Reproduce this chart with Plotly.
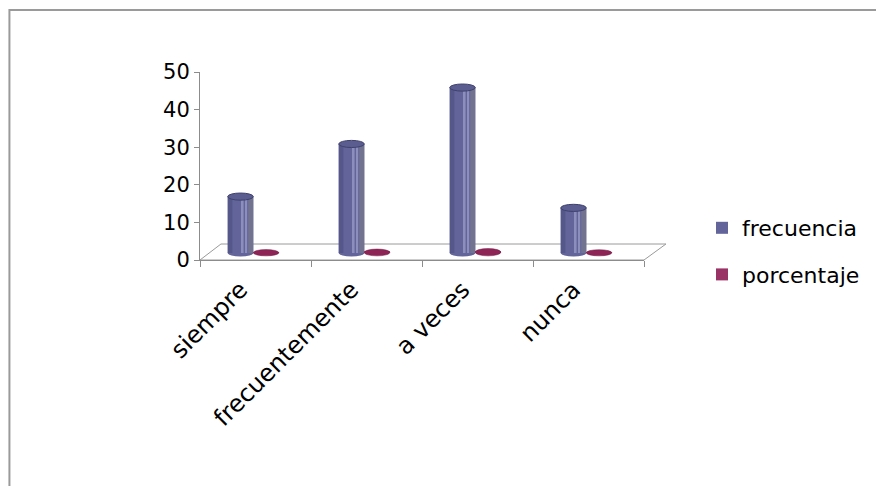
import plotly.graph_objects as go

# Survey answers and their counts / shares
categorias = ["siempre", "frecuentemente", "a veces", "nunca"]
frecuencia = [15, 29, 44, 12]
porcentaje = [0.15, 0.29, 0.44, 0.12]
y_ticks = [0, 10, 20, 30, 40, 50]

W, H = 876, 486
ML, MR, MT, MB = 200, 231, 72, 226
PW, PH = W - ML - MR, H - MT - MB


def px(xp):
    return (xp - ML) / PW


def py(yp):
    return (H - MB - yp) / PH


FONT = "DejaVu Sans"
BLUE = "#62649A"
BLUE_DARK = "#55578A"
BLUE_LIGHT = "#8C8EBC"
BLUE_GREY = "#72738F"
RED = "#8E2456"

# cylinder geometry in category units
W_CYL = 0.23
OFF_F = -0.25
OFF_P = -0.02
CAP = 0.95  # half height of the elliptical caps, in value units

fig = go.Figure()

# value axis carrier (keeps the front axis subplot alive)
fig.add_trace(go.Scatter(x=categorias, y=[None] * len(categorias),
                         mode="lines", showlegend=False, hoverinfo="skip"))

# frecuencia cylinders: body plus shading stripes
fig.add_trace(go.Bar(
    x=categorias, y=frecuencia, name="frecuencia", yaxis="y2",
    offset=OFF_F, width=W_CYL, marker=dict(color=BLUE, line=dict(width=0)),
    legendgroup="f", hoverinfo="skip"))
stripes = [
    (0.00, 0.18, BLUE_DARK),
    (0.55, 0.07, BLUE_LIGHT),
    (0.70, 0.06, BLUE_LIGHT),
    (0.80, 0.20, BLUE_GREY),
]
for start, frac, col in stripes:
    fig.add_trace(go.Bar(
        x=categorias, y=frecuencia, yaxis="y2", showlegend=False,
        offset=OFF_F + start * W_CYL, width=frac * W_CYL,
        marker=dict(color=col, line=dict(width=0)), hoverinfo="skip"))

# porcentaje cylinders (very short, they read as flat discs)
fig.add_trace(go.Bar(
    x=categorias, y=porcentaje, name="porcentaje", yaxis="y2",
    offset=OFF_P, width=W_CYL, marker=dict(color="#993366", line=dict(width=0)),
    legendgroup="p", hoverinfo="skip"))

shapes = []
# chart frame
shapes.append(dict(type="rect", xref="paper", yref="paper",
                   x0=px(9), x1=px(W + 20), y0=py(10), y1=py(H + 20),
                   line=dict(color="#9A9A9A", width=2), fillcolor="rgba(0,0,0,0)",
                   layer="below"))
# floor of the 3D plot
floor = [(200, 260), (221, 244), (667, 244), (645, 260)]
path = "M " + " L ".join(f"{px(a)},{py(b)}" for a, b in floor) + " Z"
shapes.append(dict(type="path", xref="paper", yref="paper", path=path,
                   line=dict(color="#9A9A9A", width=1), fillcolor="white",
                   layer="below"))

for i, v in enumerate(frecuencia):
    x0, x1 = i + OFF_F, i + OFF_F + W_CYL
    shapes.append(dict(type="circle", xref="x", yref="y2", x0=x0, x1=x1,
                       y0=-CAP, y1=CAP, fillcolor=BLUE, line=dict(width=0),
                       layer="below"))
    shapes.append(dict(type="circle", xref="x", yref="y2", x0=x0, x1=x1,
                       y0=v - CAP, y1=v + CAP, fillcolor="#5B5D90",
                       line=dict(color="#3F416C", width=1), layer="above"))

for i, v in enumerate(porcentaje):
    x0, x1 = i + OFF_P, i + OFF_P + W_CYL
    shapes.append(dict(type="circle", xref="x", yref="y2", x0=x0, x1=x1,
                       y0=-CAP * 0.8, y1=v + CAP * 0.8, fillcolor=RED,
                       line=dict(color="#6E1A42", width=0.5), layer="above"))

shift = 7 / (PH / 50)  # bars stand on the middle of the floor

fig.update_layout(
    width=W, height=H,
    margin=dict(l=ML, r=MR, t=MT, b=MB, pad=0),
    paper_bgcolor="white", plot_bgcolor="rgba(0,0,0,0)",
    font=dict(family=FONT, color="#000000"),
    barmode="overlay",
    showlegend=True,
    legend=dict(x=px(702), y=py(207), xanchor="left", yanchor="top",
                font=dict(size=22, family=FONT), traceorder="grouped",
                tracegroupgap=15, bgcolor="rgba(0,0,0,0)"),
    xaxis=dict(type="category", categoryorder="array", categoryarray=categorias,
               range=[-0.5, 3.5], tickson="boundaries", ticks="outside",
               ticklen=6, tickcolor="#8C8C8C", showline=True,
               linecolor="#8C8C8C", linewidth=1, showgrid=False,
               tickangle=-45, ticklabelshift=-15, ticklabelstandoff=5,
               tickfont=dict(size=24, family=FONT)),
    yaxis=dict(range=[0, 50], tickvals=y_ticks, ticks="outside", ticklen=5,
               tickcolor="#8C8C8C", showline=True, linecolor="#8C8C8C",
               linewidth=1, showgrid=False, zeroline=False,
               tickfont=dict(size=21, family=FONT)),
    yaxis2=dict(range=[-shift, 50 - shift], overlaying="y", visible=False),
    shapes=shapes,
)

fig.write_html("out.html")
